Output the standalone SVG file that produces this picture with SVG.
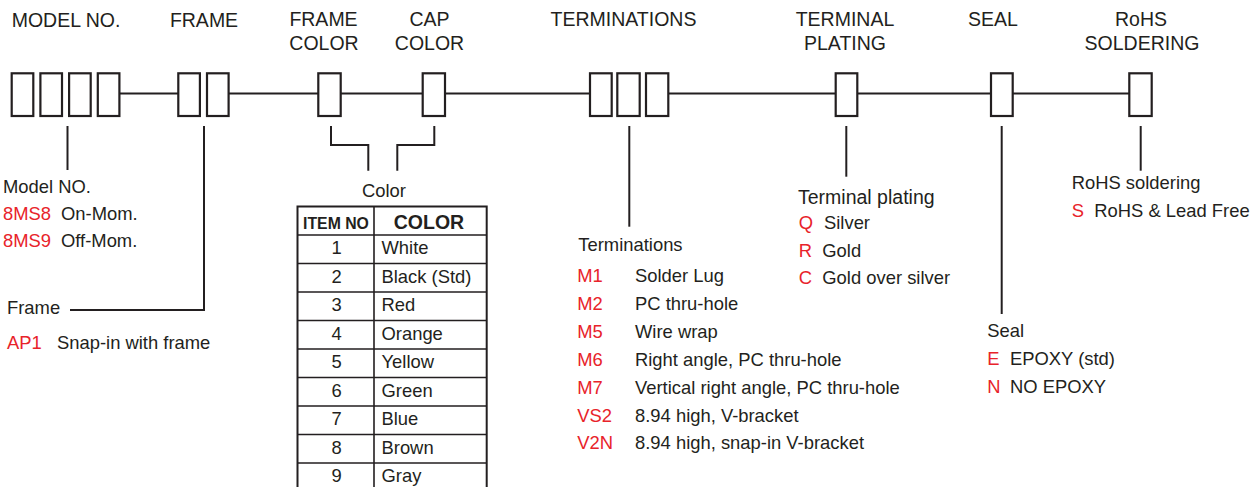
<svg xmlns="http://www.w3.org/2000/svg" width="1258" height="487" viewBox="0 0 1258 487">
<style>
text{font-family:"Liberation Sans",Arial,sans-serif;fill:#231f20}
.t{font-size:19.5px}
.d{font-size:18.4px}
.r{fill:#e8232a}
.c{text-anchor:middle}
.b{font-weight:bold}
.box{fill:#fff;stroke:#231f20;stroke-width:2.2}
.ln{fill:none;stroke:#231f20;stroke-width:2}
.tb{fill:none;stroke:#231f20;stroke-width:2}
.tl{stroke:#231f20;stroke-width:1.6}
</style>
<g id="connectors">
<path class="ln" d="M119.4 93.5H178.3M228.6 93.5H318.3M340.7 93.5H422.7M445 93.5H590M668.3 93.5H835.7M857.3 93.5H991M1012.7 93.5H1129.3"/>
<path class="ln" d="M67.5 126V170"/>
<path class="ln" d="M204 126V310H70"/>
<path class="ln" d="M331 126V145H368.3V170.7"/>
<path class="ln" d="M434.3 126V145H397.3V170.7"/>
<path class="ln" d="M629.3 126V226.7"/>
<path class="ln" d="M846.3 126V176.7"/>
<path class="ln" d="M1001.7 126V314"/>
<path class="ln" d="M1140.7 126V170.7"/>
</g>
<g id="model">
<text class="t c" x="66" y="26.5">MODEL NO.</text>
<rect class="box" x="11.7" y="73.3" width="21.6" height="42.7"/>
<rect class="box" x="40.4" y="73.3" width="21.6" height="42.7"/>
<rect class="box" x="69.1" y="73.3" width="21.6" height="42.7"/>
<rect class="box" x="97.8" y="73.3" width="21.6" height="42.7"/>
<text class="d" x="3" y="193.3">Model NO.</text>
<text class="d r" x="3" y="219.5">8MS8</text><text class="d" x="61" y="219.5">On-Mom.</text>
<text class="d r" x="3" y="247">8MS9</text><text class="d" x="61" y="247">Off-Mom.</text>
</g>
<g id="frame">
<text class="t c" x="204" y="26.5">FRAME</text>
<rect class="box" x="178.3" y="73.3" width="21.6" height="42.7"/>
<rect class="box" x="207" y="73.3" width="21.6" height="42.7"/>
<text class="d" x="7" y="314.3">Frame</text>
<text class="d r" x="7" y="349.3">AP1</text><text class="d" x="57" y="349.3">Snap-in with frame</text>
</g>
<g id="frame-color">
<text class="t c" x="323.5" y="26">FRAME</text>
<text class="t c" x="324" y="50">COLOR</text>
<rect class="box" x="318.3" y="73.3" width="22.4" height="42.7"/>
</g>
<g id="cap-color">
<text class="t c" x="429.5" y="26">CAP</text>
<text class="t c" x="429.5" y="50">COLOR</text>
<rect class="box" x="422.7" y="73.3" width="22.3" height="42.7"/>
</g>
<g id="color-table">
<text class="d c" x="384" y="196.7">Color</text>
<rect class="tb" x="297.5" y="206.5" width="189.2" height="290"/>
<path class="tl" d="M374 206.5V491M297.5 235H486.7M297.5 263.5H486.7M297.5 292H486.7M297.5 320.5H486.7M297.5 349H486.7M297.5 377.5H486.7M297.5 406H486.7M297.5 434.5H486.7M297.5 463H486.7"/>
<text class="b c" x="336" y="229.3" style="font-size:15.8px">ITEM NO</text>
<text class="b c" x="429" y="229.3" style="font-size:19.5px">COLOR</text>
<text class="d c" x="336.5" y="254.3">1</text><text class="d" x="381.5" y="254.3">White</text>
<text class="d c" x="336.5" y="282.8">2</text><text class="d" x="381.5" y="282.8">Black (Std)</text>
<text class="d c" x="336.5" y="311.3">3</text><text class="d" x="381.5" y="311.3">Red</text>
<text class="d c" x="336.5" y="339.8">4</text><text class="d" x="381.5" y="339.8">Orange</text>
<text class="d c" x="336.5" y="368.3">5</text><text class="d" x="381.5" y="368.3">Yellow</text>
<text class="d c" x="336.5" y="396.8">6</text><text class="d" x="381.5" y="396.8">Green</text>
<text class="d c" x="336.5" y="425.3">7</text><text class="d" x="381.5" y="425.3">Blue</text>
<text class="d c" x="336.5" y="453.8">8</text><text class="d" x="381.5" y="453.8">Brown</text>
<text class="d c" x="336.5" y="482.3">9</text><text class="d" x="381.5" y="482.3">Gray</text>
</g>
<g id="terminations">
<text class="t c" x="623.5" y="26">TERMINATIONS</text>
<rect class="box" x="590" y="73.3" width="21.7" height="42.7"/>
<rect class="box" x="617.3" y="73.3" width="22.4" height="42.7"/>
<rect class="box" x="646" y="73.3" width="22.3" height="42.7"/>
<text class="d" x="578.3" y="250.7">Terminations</text>
<text class="d r" x="577.3" y="282.3">M1</text><text class="d" x="635" y="282.3">Solder Lug</text>
<text class="d r" x="577.3" y="310.2">M2</text><text class="d" x="635" y="310.2">PC thru-hole</text>
<text class="d r" x="577.3" y="338">M5</text><text class="d" x="635" y="338">Wire wrap</text>
<text class="d r" x="577.3" y="365.9">M6</text><text class="d" x="635" y="365.9">Right angle, PC thru-hole</text>
<text class="d r" x="577.3" y="393.7">M7</text><text class="d" x="635" y="393.7">Vertical right angle, PC thru-hole</text>
<text class="d r" x="577.3" y="421.6">VS2</text><text class="d" x="635" y="421.6">8.94 high, V-bracket</text>
<text class="d r" x="577.3" y="449.4">V2N</text><text class="d" x="635" y="449.4">8.94 high, snap-in V-bracket</text>
</g>
<g id="terminal-plating">
<text class="t c" x="845" y="26">TERMINAL</text>
<text class="t c" x="845" y="50">PLATING</text>
<rect class="box" x="835.7" y="73.3" width="21.6" height="42.7"/>
<text class="t" x="798" y="204">Terminal plating</text>
<text class="d r" x="798.7" y="229">Q</text><text class="d" x="824" y="229">Silver</text>
<text class="d r" x="798.7" y="256.7">R</text><text class="d" x="822.3" y="256.7">Gold</text>
<text class="d r" x="798.7" y="284.3">C</text><text class="d" x="822.3" y="284.3">Gold over silver</text>
</g>
<g id="seal">
<text class="t c" x="993" y="26">SEAL</text>
<rect class="box" x="991" y="73.3" width="21.7" height="42.7"/>
<text class="d" x="987.3" y="336.7">Seal</text>
<text class="d r" x="987.3" y="365">E</text><text class="d" x="1010" y="365">EPOXY (std)</text>
<text class="d r" x="987.3" y="392.7">N</text><text class="d" x="1010" y="392.7">NO EPOXY</text>
</g>
<g id="rohs">
<text class="t c" x="1141" y="26">RoHS</text>
<text class="t c" x="1142" y="50">SOLDERING</text>
<rect class="box" x="1129.3" y="73.3" width="22.4" height="42.7"/>
<text class="d" x="1071.7" y="189.3">RoHS soldering</text>
<text class="d r" x="1071.7" y="217.3">S</text><text class="d" x="1094.3" y="217.3">RoHS &amp; Lead Free</text>
</g>
</svg>
